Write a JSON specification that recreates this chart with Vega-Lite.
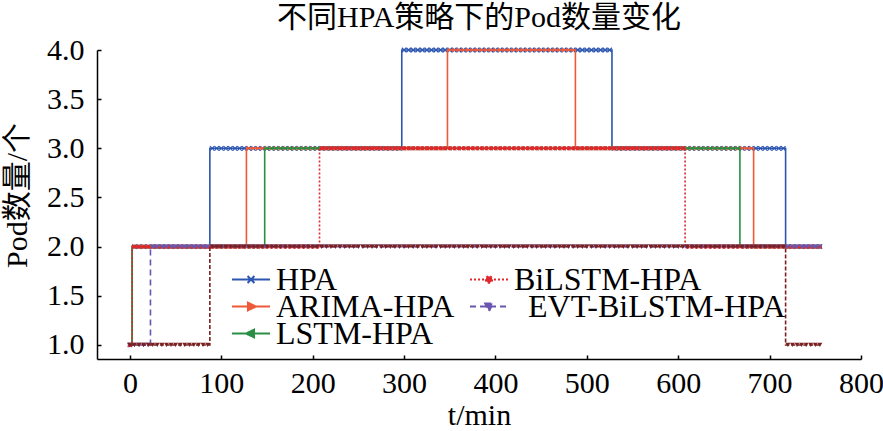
{
"$schema": "https://vega.github.io/schema/vega-lite/v6.json",
"width": 764,
"height": 309,
"autosize": {"type": "none"},
"padding": {"left": 97, "top": 50, "right": 22, "bottom": 72},
"title": {"text": "不同HPA策略下的Pod数量变化", "fontSize": 30, "fontWeight": "normal", "font": "Liberation Serif, Noto Sans CJK SC", "color": "black", "offset": 2, "anchor": "middle"},
"config": {
  "font": "Liberation Serif, Noto Sans CJK SC",
  "view": {"stroke": null},
  "axis": {"domainColor": "black", "domainWidth": 1.5, "tickColor": "black", "tickWidth": 1.5, "tickSize": -4, "grid": false, "labelColor": "black", "labelFontSize": 30, "labelFont": "Liberation Serif", "titleFont": "Liberation Serif, Noto Sans CJK SC", "titleFontSize": 30, "titleFontWeight": "normal", "titleColor": "black", "labelFlush": false, "labelOverlap": false, "labelBound": false}
},
"datasets": {
"hpa": [{"t":0,"y":1},{"t":5,"y":2},{"t":10,"y":2},{"t":15,"y":2},{"t":20,"y":2},{"t":25,"y":2},{"t":30,"y":2},{"t":35,"y":2},{"t":40,"y":2},{"t":45,"y":2},{"t":50,"y":2},{"t":55,"y":2},{"t":60,"y":2},{"t":65,"y":2},{"t":70,"y":2},{"t":75,"y":2},{"t":80,"y":2},{"t":85,"y":2},{"t":90,"y":3},{"t":95,"y":3},{"t":100,"y":3},{"t":105,"y":3},{"t":110,"y":3},{"t":115,"y":3},{"t":120,"y":3},{"t":125,"y":3},{"t":130,"y":3},{"t":135,"y":3},{"t":140,"y":3},{"t":145,"y":3},{"t":150,"y":3},{"t":155,"y":3},{"t":160,"y":3},{"t":165,"y":3},{"t":170,"y":3},{"t":175,"y":3},{"t":180,"y":3},{"t":185,"y":3},{"t":190,"y":3},{"t":195,"y":3},{"t":200,"y":3},{"t":205,"y":3},{"t":210,"y":3},{"t":215,"y":3},{"t":220,"y":3},{"t":225,"y":3},{"t":230,"y":3},{"t":235,"y":3},{"t":240,"y":3},{"t":245,"y":3},{"t":250,"y":3},{"t":255,"y":3},{"t":260,"y":3},{"t":265,"y":3},{"t":270,"y":3},{"t":275,"y":3},{"t":280,"y":3},{"t":285,"y":3},{"t":290,"y":3},{"t":295,"y":3},{"t":300,"y":4},{"t":305,"y":4},{"t":310,"y":4},{"t":315,"y":4},{"t":320,"y":4},{"t":325,"y":4},{"t":330,"y":4},{"t":335,"y":4},{"t":340,"y":4},{"t":345,"y":4},{"t":350,"y":4},{"t":355,"y":4},{"t":360,"y":4},{"t":365,"y":4},{"t":370,"y":4},{"t":375,"y":4},{"t":380,"y":4},{"t":385,"y":4},{"t":390,"y":4},{"t":395,"y":4},{"t":400,"y":4},{"t":405,"y":4},{"t":410,"y":4},{"t":415,"y":4},{"t":420,"y":4},{"t":425,"y":4},{"t":430,"y":4},{"t":435,"y":4},{"t":440,"y":4},{"t":445,"y":4},{"t":450,"y":4},{"t":455,"y":4},{"t":460,"y":4},{"t":465,"y":4},{"t":470,"y":4},{"t":475,"y":4},{"t":480,"y":4},{"t":485,"y":4},{"t":490,"y":4},{"t":495,"y":4},{"t":500,"y":4},{"t":505,"y":4},{"t":510,"y":4},{"t":515,"y":4},{"t":520,"y":4},{"t":525,"y":4},{"t":530,"y":3},{"t":535,"y":3},{"t":540,"y":3},{"t":545,"y":3},{"t":550,"y":3},{"t":555,"y":3},{"t":560,"y":3},{"t":565,"y":3},{"t":570,"y":3},{"t":575,"y":3},{"t":580,"y":3},{"t":585,"y":3},{"t":590,"y":3},{"t":595,"y":3},{"t":600,"y":3},{"t":605,"y":3},{"t":610,"y":3},{"t":615,"y":3},{"t":620,"y":3},{"t":625,"y":3},{"t":630,"y":3},{"t":635,"y":3},{"t":640,"y":3},{"t":645,"y":3},{"t":650,"y":3},{"t":655,"y":3},{"t":660,"y":3},{"t":665,"y":3},{"t":670,"y":3},{"t":675,"y":3},{"t":680,"y":3},{"t":685,"y":3},{"t":690,"y":3},{"t":695,"y":3},{"t":700,"y":3},{"t":705,"y":3},{"t":710,"y":3},{"t":715,"y":3},{"t":720,"y":2},{"t":725,"y":2},{"t":730,"y":2},{"t":735,"y":2},{"t":740,"y":2},{"t":745,"y":2},{"t":750,"y":2},{"t":755,"y":2}],
"arima": [{"t":0,"y":1},{"t":5,"y":2},{"t":10,"y":2},{"t":15,"y":2},{"t":20,"y":2},{"t":25,"y":2},{"t":30,"y":2},{"t":35,"y":2},{"t":40,"y":2},{"t":45,"y":2},{"t":50,"y":2},{"t":55,"y":2},{"t":60,"y":2},{"t":65,"y":2},{"t":70,"y":2},{"t":75,"y":2},{"t":80,"y":2},{"t":85,"y":2},{"t":90,"y":2},{"t":95,"y":2},{"t":100,"y":2},{"t":105,"y":2},{"t":110,"y":2},{"t":115,"y":2},{"t":120,"y":2},{"t":125,"y":2},{"t":130,"y":3},{"t":135,"y":3},{"t":140,"y":3},{"t":145,"y":3},{"t":150,"y":3},{"t":155,"y":3},{"t":160,"y":3},{"t":165,"y":3},{"t":170,"y":3},{"t":175,"y":3},{"t":180,"y":3},{"t":185,"y":3},{"t":190,"y":3},{"t":195,"y":3},{"t":200,"y":3},{"t":205,"y":3},{"t":210,"y":3},{"t":215,"y":3},{"t":220,"y":3},{"t":225,"y":3},{"t":230,"y":3},{"t":235,"y":3},{"t":240,"y":3},{"t":245,"y":3},{"t":250,"y":3},{"t":255,"y":3},{"t":260,"y":3},{"t":265,"y":3},{"t":270,"y":3},{"t":275,"y":3},{"t":280,"y":3},{"t":285,"y":3},{"t":290,"y":3},{"t":295,"y":3},{"t":300,"y":3},{"t":305,"y":3},{"t":310,"y":3},{"t":315,"y":3},{"t":320,"y":3},{"t":325,"y":3},{"t":330,"y":3},{"t":335,"y":3},{"t":340,"y":3},{"t":345,"y":3},{"t":350,"y":4},{"t":355,"y":4},{"t":360,"y":4},{"t":365,"y":4},{"t":370,"y":4},{"t":375,"y":4},{"t":380,"y":4},{"t":385,"y":4},{"t":390,"y":4},{"t":395,"y":4},{"t":400,"y":4},{"t":405,"y":4},{"t":410,"y":4},{"t":415,"y":4},{"t":420,"y":4},{"t":425,"y":4},{"t":430,"y":4},{"t":435,"y":4},{"t":440,"y":4},{"t":445,"y":4},{"t":450,"y":4},{"t":455,"y":4},{"t":460,"y":4},{"t":465,"y":4},{"t":470,"y":4},{"t":475,"y":4},{"t":480,"y":4},{"t":485,"y":4},{"t":490,"y":3},{"t":495,"y":3},{"t":500,"y":3},{"t":505,"y":3},{"t":510,"y":3},{"t":515,"y":3},{"t":520,"y":3},{"t":525,"y":3},{"t":530,"y":3},{"t":535,"y":3},{"t":540,"y":3},{"t":545,"y":3},{"t":550,"y":3},{"t":555,"y":3},{"t":560,"y":3},{"t":565,"y":3},{"t":570,"y":3},{"t":575,"y":3},{"t":580,"y":3},{"t":585,"y":3},{"t":590,"y":3},{"t":595,"y":3},{"t":600,"y":3},{"t":605,"y":3},{"t":610,"y":3},{"t":615,"y":3},{"t":620,"y":3},{"t":625,"y":3},{"t":630,"y":3},{"t":635,"y":3},{"t":640,"y":3},{"t":645,"y":3},{"t":650,"y":3},{"t":655,"y":3},{"t":660,"y":3},{"t":665,"y":3},{"t":670,"y":3},{"t":675,"y":3},{"t":680,"y":3},{"t":685,"y":2},{"t":690,"y":2},{"t":695,"y":2},{"t":700,"y":2},{"t":705,"y":2},{"t":710,"y":2},{"t":715,"y":2},{"t":720,"y":2},{"t":725,"y":2},{"t":730,"y":2},{"t":735,"y":2},{"t":740,"y":2},{"t":745,"y":2},{"t":750,"y":2},{"t":755,"y":2}],
"lstm": [{"t":0,"y":1},{"t":5,"y":2},{"t":10,"y":2},{"t":15,"y":2},{"t":20,"y":2},{"t":25,"y":2},{"t":30,"y":2},{"t":35,"y":2},{"t":40,"y":2},{"t":45,"y":2},{"t":50,"y":2},{"t":55,"y":2},{"t":60,"y":2},{"t":65,"y":2},{"t":70,"y":2},{"t":75,"y":2},{"t":80,"y":2},{"t":85,"y":2},{"t":90,"y":2},{"t":95,"y":2},{"t":100,"y":2},{"t":105,"y":2},{"t":110,"y":2},{"t":115,"y":2},{"t":120,"y":2},{"t":125,"y":2},{"t":130,"y":2},{"t":135,"y":2},{"t":140,"y":2},{"t":145,"y":2},{"t":150,"y":3},{"t":155,"y":3},{"t":160,"y":3},{"t":165,"y":3},{"t":170,"y":3},{"t":175,"y":3},{"t":180,"y":3},{"t":185,"y":3},{"t":190,"y":3},{"t":195,"y":3},{"t":200,"y":3},{"t":205,"y":3},{"t":210,"y":3},{"t":215,"y":3},{"t":220,"y":3},{"t":225,"y":3},{"t":230,"y":3},{"t":235,"y":3},{"t":240,"y":3},{"t":245,"y":3},{"t":250,"y":3},{"t":255,"y":3},{"t":260,"y":3},{"t":265,"y":3},{"t":270,"y":3},{"t":275,"y":3},{"t":280,"y":3},{"t":285,"y":3},{"t":290,"y":3},{"t":295,"y":3},{"t":300,"y":3},{"t":305,"y":3},{"t":310,"y":3},{"t":315,"y":3},{"t":320,"y":3},{"t":325,"y":3},{"t":330,"y":3},{"t":335,"y":3},{"t":340,"y":3},{"t":345,"y":3},{"t":350,"y":3},{"t":355,"y":3},{"t":360,"y":3},{"t":365,"y":3},{"t":370,"y":3},{"t":375,"y":3},{"t":380,"y":3},{"t":385,"y":3},{"t":390,"y":3},{"t":395,"y":3},{"t":400,"y":3},{"t":405,"y":3},{"t":410,"y":3},{"t":415,"y":3},{"t":420,"y":3},{"t":425,"y":3},{"t":430,"y":3},{"t":435,"y":3},{"t":440,"y":3},{"t":445,"y":3},{"t":450,"y":3},{"t":455,"y":3},{"t":460,"y":3},{"t":465,"y":3},{"t":470,"y":3},{"t":475,"y":3},{"t":480,"y":3},{"t":485,"y":3},{"t":490,"y":3},{"t":495,"y":3},{"t":500,"y":3},{"t":505,"y":3},{"t":510,"y":3},{"t":515,"y":3},{"t":520,"y":3},{"t":525,"y":3},{"t":530,"y":3},{"t":535,"y":3},{"t":540,"y":3},{"t":545,"y":3},{"t":550,"y":3},{"t":555,"y":3},{"t":560,"y":3},{"t":565,"y":3},{"t":570,"y":3},{"t":575,"y":3},{"t":580,"y":3},{"t":585,"y":3},{"t":590,"y":3},{"t":595,"y":3},{"t":600,"y":3},{"t":605,"y":3},{"t":610,"y":3},{"t":615,"y":3},{"t":620,"y":3},{"t":625,"y":3},{"t":630,"y":3},{"t":635,"y":3},{"t":640,"y":3},{"t":645,"y":3},{"t":650,"y":3},{"t":655,"y":3},{"t":660,"y":3},{"t":665,"y":3},{"t":670,"y":2},{"t":675,"y":2},{"t":680,"y":2},{"t":685,"y":2},{"t":690,"y":2},{"t":695,"y":2},{"t":700,"y":2},{"t":705,"y":2},{"t":710,"y":2},{"t":715,"y":2},{"t":720,"y":2},{"t":725,"y":2},{"t":730,"y":2},{"t":735,"y":2},{"t":740,"y":2},{"t":745,"y":2},{"t":750,"y":2},{"t":755,"y":2}],
"bilstm": [{"t":0,"y":1},{"t":5,"y":2},{"t":10,"y":2},{"t":15,"y":2},{"t":20,"y":2},{"t":25,"y":2},{"t":30,"y":2},{"t":35,"y":2},{"t":40,"y":2},{"t":45,"y":2},{"t":50,"y":2},{"t":55,"y":2},{"t":60,"y":2},{"t":65,"y":2},{"t":70,"y":2},{"t":75,"y":2},{"t":80,"y":2},{"t":85,"y":2},{"t":90,"y":2},{"t":95,"y":2},{"t":100,"y":2},{"t":105,"y":2},{"t":110,"y":2},{"t":115,"y":2},{"t":120,"y":2},{"t":125,"y":2},{"t":130,"y":2},{"t":135,"y":2},{"t":140,"y":2},{"t":145,"y":2},{"t":150,"y":2},{"t":155,"y":2},{"t":160,"y":2},{"t":165,"y":2},{"t":170,"y":2},{"t":175,"y":2},{"t":180,"y":2},{"t":185,"y":2},{"t":190,"y":2},{"t":195,"y":2},{"t":200,"y":2},{"t":205,"y":2},{"t":210,"y":3},{"t":215,"y":3},{"t":220,"y":3},{"t":225,"y":3},{"t":230,"y":3},{"t":235,"y":3},{"t":240,"y":3},{"t":245,"y":3},{"t":250,"y":3},{"t":255,"y":3},{"t":260,"y":3},{"t":265,"y":3},{"t":270,"y":3},{"t":275,"y":3},{"t":280,"y":3},{"t":285,"y":3},{"t":290,"y":3},{"t":295,"y":3},{"t":300,"y":3},{"t":305,"y":3},{"t":310,"y":3},{"t":315,"y":3},{"t":320,"y":3},{"t":325,"y":3},{"t":330,"y":3},{"t":335,"y":3},{"t":340,"y":3},{"t":345,"y":3},{"t":350,"y":3},{"t":355,"y":3},{"t":360,"y":3},{"t":365,"y":3},{"t":370,"y":3},{"t":375,"y":3},{"t":380,"y":3},{"t":385,"y":3},{"t":390,"y":3},{"t":395,"y":3},{"t":400,"y":3},{"t":405,"y":3},{"t":410,"y":3},{"t":415,"y":3},{"t":420,"y":3},{"t":425,"y":3},{"t":430,"y":3},{"t":435,"y":3},{"t":440,"y":3},{"t":445,"y":3},{"t":450,"y":3},{"t":455,"y":3},{"t":460,"y":3},{"t":465,"y":3},{"t":470,"y":3},{"t":475,"y":3},{"t":480,"y":3},{"t":485,"y":3},{"t":490,"y":3},{"t":495,"y":3},{"t":500,"y":3},{"t":505,"y":3},{"t":510,"y":3},{"t":515,"y":3},{"t":520,"y":3},{"t":525,"y":3},{"t":530,"y":3},{"t":535,"y":3},{"t":540,"y":3},{"t":545,"y":3},{"t":550,"y":3},{"t":555,"y":3},{"t":560,"y":3},{"t":565,"y":3},{"t":570,"y":3},{"t":575,"y":3},{"t":580,"y":3},{"t":585,"y":3},{"t":590,"y":3},{"t":595,"y":3},{"t":600,"y":3},{"t":605,"y":3},{"t":610,"y":2},{"t":615,"y":2},{"t":620,"y":2},{"t":625,"y":2},{"t":630,"y":2},{"t":635,"y":2},{"t":640,"y":2},{"t":645,"y":2},{"t":650,"y":2},{"t":655,"y":2},{"t":660,"y":2},{"t":665,"y":2},{"t":670,"y":2},{"t":675,"y":2},{"t":680,"y":2},{"t":685,"y":2},{"t":690,"y":2},{"t":695,"y":2},{"t":700,"y":2},{"t":705,"y":2},{"t":710,"y":2},{"t":715,"y":2},{"t":720,"y":2},{"t":725,"y":2},{"t":730,"y":2},{"t":735,"y":2},{"t":740,"y":2},{"t":745,"y":2},{"t":750,"y":2},{"t":755,"y":2}],
"evt": [{"t":0,"y":1},{"t":5,"y":1},{"t":10,"y":1},{"t":15,"y":1},{"t":20,"y":1},{"t":25,"y":2},{"t":30,"y":2},{"t":35,"y":2},{"t":40,"y":2},{"t":45,"y":2},{"t":50,"y":2},{"t":55,"y":2},{"t":60,"y":2},{"t":65,"y":2},{"t":70,"y":2},{"t":75,"y":2},{"t":80,"y":2},{"t":85,"y":2},{"t":90,"y":2},{"t":95,"y":2},{"t":100,"y":2},{"t":105,"y":2},{"t":110,"y":2},{"t":115,"y":2},{"t":120,"y":2},{"t":125,"y":2},{"t":130,"y":2},{"t":135,"y":2},{"t":140,"y":2},{"t":145,"y":2},{"t":150,"y":2},{"t":155,"y":2},{"t":160,"y":2},{"t":165,"y":2},{"t":170,"y":2},{"t":175,"y":2},{"t":180,"y":2},{"t":185,"y":2},{"t":190,"y":2},{"t":195,"y":2},{"t":200,"y":2},{"t":205,"y":2},{"t":210,"y":2},{"t":215,"y":2},{"t":220,"y":2},{"t":225,"y":2},{"t":230,"y":2},{"t":235,"y":2},{"t":240,"y":2},{"t":245,"y":2},{"t":250,"y":2},{"t":255,"y":2},{"t":260,"y":2},{"t":265,"y":2},{"t":270,"y":2},{"t":275,"y":2},{"t":280,"y":2},{"t":285,"y":2},{"t":290,"y":2},{"t":295,"y":2},{"t":300,"y":2},{"t":305,"y":2},{"t":310,"y":2},{"t":315,"y":2},{"t":320,"y":2},{"t":325,"y":2},{"t":330,"y":2},{"t":335,"y":2},{"t":340,"y":2},{"t":345,"y":2},{"t":350,"y":2},{"t":355,"y":2},{"t":360,"y":2},{"t":365,"y":2},{"t":370,"y":2},{"t":375,"y":2},{"t":380,"y":2},{"t":385,"y":2},{"t":390,"y":2},{"t":395,"y":2},{"t":400,"y":2},{"t":405,"y":2},{"t":410,"y":2},{"t":415,"y":2},{"t":420,"y":2},{"t":425,"y":2},{"t":430,"y":2},{"t":435,"y":2},{"t":440,"y":2},{"t":445,"y":2},{"t":450,"y":2},{"t":455,"y":2},{"t":460,"y":2},{"t":465,"y":2},{"t":470,"y":2},{"t":475,"y":2},{"t":480,"y":2},{"t":485,"y":2},{"t":490,"y":2},{"t":495,"y":2},{"t":500,"y":2},{"t":505,"y":2},{"t":510,"y":2},{"t":515,"y":2},{"t":520,"y":2},{"t":525,"y":2},{"t":530,"y":2},{"t":535,"y":2},{"t":540,"y":2},{"t":545,"y":2},{"t":550,"y":2},{"t":555,"y":2},{"t":560,"y":2},{"t":565,"y":2},{"t":570,"y":2},{"t":575,"y":2},{"t":580,"y":2},{"t":585,"y":2},{"t":590,"y":2},{"t":595,"y":2},{"t":600,"y":2},{"t":605,"y":2},{"t":610,"y":2},{"t":615,"y":2},{"t":620,"y":2},{"t":625,"y":2},{"t":630,"y":2},{"t":635,"y":2},{"t":640,"y":2},{"t":645,"y":2},{"t":650,"y":2},{"t":655,"y":2},{"t":660,"y":2},{"t":665,"y":2},{"t":670,"y":2},{"t":675,"y":2},{"t":680,"y":2},{"t":685,"y":2},{"t":690,"y":2},{"t":695,"y":2},{"t":700,"y":2},{"t":705,"y":2},{"t":710,"y":2},{"t":715,"y":2},{"t":720,"y":2},{"t":725,"y":2},{"t":730,"y":2},{"t":735,"y":2},{"t":740,"y":2},{"t":745,"y":2},{"t":750,"y":2},{"t":755,"y":2}],
"other": [{"t":0,"y":1},{"t":5,"y":1},{"t":10,"y":1},{"t":15,"y":1},{"t":20,"y":1},{"t":25,"y":1},{"t":30,"y":1},{"t":35,"y":1},{"t":40,"y":1},{"t":45,"y":1},{"t":50,"y":1},{"t":55,"y":1},{"t":60,"y":1},{"t":65,"y":1},{"t":70,"y":1},{"t":75,"y":1},{"t":80,"y":1},{"t":85,"y":1},{"t":90,"y":2},{"t":95,"y":2},{"t":100,"y":2},{"t":105,"y":2},{"t":110,"y":2},{"t":115,"y":2},{"t":120,"y":2},{"t":125,"y":2},{"t":130,"y":2},{"t":135,"y":2},{"t":140,"y":2},{"t":145,"y":2},{"t":150,"y":2},{"t":155,"y":2},{"t":160,"y":2},{"t":165,"y":2},{"t":170,"y":2},{"t":175,"y":2},{"t":180,"y":2},{"t":185,"y":2},{"t":190,"y":2},{"t":195,"y":2},{"t":200,"y":2},{"t":205,"y":2},{"t":210,"y":2},{"t":215,"y":2},{"t":220,"y":2},{"t":225,"y":2},{"t":230,"y":2},{"t":235,"y":2},{"t":240,"y":2},{"t":245,"y":2},{"t":250,"y":2},{"t":255,"y":2},{"t":260,"y":2},{"t":265,"y":2},{"t":270,"y":2},{"t":275,"y":2},{"t":280,"y":2},{"t":285,"y":2},{"t":290,"y":2},{"t":295,"y":2},{"t":300,"y":2},{"t":305,"y":2},{"t":310,"y":2},{"t":315,"y":2},{"t":320,"y":2},{"t":325,"y":2},{"t":330,"y":2},{"t":335,"y":2},{"t":340,"y":2},{"t":345,"y":2},{"t":350,"y":2},{"t":355,"y":2},{"t":360,"y":2},{"t":365,"y":2},{"t":370,"y":2},{"t":375,"y":2},{"t":380,"y":2},{"t":385,"y":2},{"t":390,"y":2},{"t":395,"y":2},{"t":400,"y":2},{"t":405,"y":2},{"t":410,"y":2},{"t":415,"y":2},{"t":420,"y":2},{"t":425,"y":2},{"t":430,"y":2},{"t":435,"y":2},{"t":440,"y":2},{"t":445,"y":2},{"t":450,"y":2},{"t":455,"y":2},{"t":460,"y":2},{"t":465,"y":2},{"t":470,"y":2},{"t":475,"y":2},{"t":480,"y":2},{"t":485,"y":2},{"t":490,"y":2},{"t":495,"y":2},{"t":500,"y":2},{"t":505,"y":2},{"t":510,"y":2},{"t":515,"y":2},{"t":520,"y":2},{"t":525,"y":2},{"t":530,"y":2},{"t":535,"y":2},{"t":540,"y":2},{"t":545,"y":2},{"t":550,"y":2},{"t":555,"y":2},{"t":560,"y":2},{"t":565,"y":2},{"t":570,"y":2},{"t":575,"y":2},{"t":580,"y":2},{"t":585,"y":2},{"t":590,"y":2},{"t":595,"y":2},{"t":600,"y":2},{"t":605,"y":2},{"t":610,"y":2},{"t":615,"y":2},{"t":620,"y":2},{"t":625,"y":2},{"t":630,"y":2},{"t":635,"y":2},{"t":640,"y":2},{"t":645,"y":2},{"t":650,"y":2},{"t":655,"y":2},{"t":660,"y":2},{"t":665,"y":2},{"t":670,"y":2},{"t":675,"y":2},{"t":680,"y":2},{"t":685,"y":2},{"t":690,"y":2},{"t":695,"y":2},{"t":700,"y":2},{"t":705,"y":2},{"t":710,"y":2},{"t":715,"y":2},{"t":720,"y":1},{"t":725,"y":1},{"t":730,"y":1},{"t":735,"y":1},{"t":740,"y":1},{"t":745,"y":1},{"t":750,"y":1},{"t":755,"y":1}]
},
"encoding": {
  "x": {"field": "t", "type": "quantitative", "scale": {"domain": [-36, 800], "nice": false, "zero": false}, "axis": {"values": [0,100,200,300,400,500,600,700,800], "title": "t/min", "labelPadding": 13, "titlePadding": 2}},
  "y": {"field": "y", "type": "quantitative", "scale": {"domain": [0.857, 4.0], "nice": false, "zero": false}, "axis": {"values": [1,1.5,2,2.5,3,3.5,4], "format": ".1f", "title": "Pod数量/个", "labelPadding": 17, "titlePadding": 14, "titleY": 145}}
},
"layer": [
  {"data": {"name": "hpa"}, "mark": {"type": "line", "interpolate": "step", "strokeWidth": 1.6, "point": {"shape": "M-1,-1L1,1M-1,1L1,-1", "filled": false, "size": 20, "strokeWidth": 1.2}},
   "encoding": {"color": {"datum": "HPA", "type": "nominal",
     "scale": {"domain": ["HPA","ARIMA-HPA","LSTM-HPA","BiLSTM-HPA","EVT-BiLSTM-HPA"], "range": ["#2c56b0","#ee5a38","#2a8f45","#e0282c","#6a55b0"]},
     "legend": {"title": null, "orient": "none", "legendX": 134, "legendY": 216, "columns": 2, "columnPadding": 0, "rowPadding": 0, "clipHeight": 27, "padding": 0,
       "values": ["HPA","ARIMA-HPA","LSTM-HPA","BiLSTM-HPA","EVT-BiLSTM-HPA"],
       "symbolType": "stroke", "symbolSize": 1444, "symbolStrokeWidth": 2, "labelFont": "Liberation Serif", "labelFontSize": 32, "labelOffset": 5, "labelColor": "black", "labelLimit": 400,
       "encode": {
         "entries": {"update": {
           "clip": {"value": true},
           "width": {"signal": "datum.index < 3 ? 238 : 340"},
           "height": {"value": 27}
         }},
         "symbols": {"update": {
           "shape": {"signal": "datum.value=='HPA' ? 'M-1,0H1M-0.18,-0.18L0.18,0.18M-0.18,0.18L0.18,-0.18' : datum.value=='ARIMA-HPA' ? 'M-1,0H1M0.26,0L-0.16,-0.2L-0.16,0.2Z' : datum.value=='LSTM-HPA' ? 'M-1,0H1M-0.26,0L0.16,-0.2L0.16,0.2Z' : datum.value=='BiLSTM-HPA' ? 'M-1,0H1M0.17,0A0.17,0.17,0,1,1,-0.17,0A0.17,0.17,0,1,1,0.17,0Z' : 'M-1,0H1M-0.2,-0.16L0.2,-0.16L0,0.24Z'"},
           "fill": {"signal": "scale('color', datum.value)"},
           "stroke": {"signal": "scale('color', datum.value)"},
           "strokeWidth": {"value": 2},
           "strokeDash": {"signal": "datum.value=='BiLSTM-HPA' ? [2,2] : datum.value=='EVT-BiLSTM-HPA' ? [6,4] : [1,0]"}
         }},
         "labels": {"update": {
           "dx": {"signal": "datum.value=='EVT-BiLSTM-HPA' ? 14 : 0"}
         }}
       }
     }}}},
  {"data": {"name": "arima"}, "mark": {"type": "line", "interpolate": "step", "strokeWidth": 1.6, "point": {"shape": "triangle-right", "filled": true, "size": 22}},
   "encoding": {"color": {"datum": "ARIMA-HPA", "type": "nominal"}}},
  {"data": {"name": "lstm"}, "mark": {"type": "line", "interpolate": "step", "strokeWidth": 1.6, "point": {"shape": "triangle-left", "filled": true, "size": 22}},
   "encoding": {"color": {"datum": "LSTM-HPA", "type": "nominal"}}},
  {"data": {"name": "bilstm"}, "mark": {"type": "line", "interpolate": "step", "strokeWidth": 1.6, "strokeDash": [2,2], "point": {"shape": "circle", "filled": true, "size": 20}},
   "encoding": {"color": {"datum": "BiLSTM-HPA", "type": "nominal"}}},
  {"data": {"name": "evt"}, "mark": {"type": "line", "interpolate": "step", "strokeWidth": 1.6, "strokeDash": [6,4], "point": {"shape": "triangle-down", "filled": true, "size": 24}},
   "encoding": {"color": {"datum": "EVT-BiLSTM-HPA", "type": "nominal"}}},
  {"data": {"name": "other"}, "mark": {"type": "line", "interpolate": "step", "strokeWidth": 1.6, "strokeDash": [4,2], "color": "#7a2020", "point": {"shape": "triangle-down", "filled": true, "size": 24, "color": "#7a2020"}},
   "encoding": {}}
]
}
